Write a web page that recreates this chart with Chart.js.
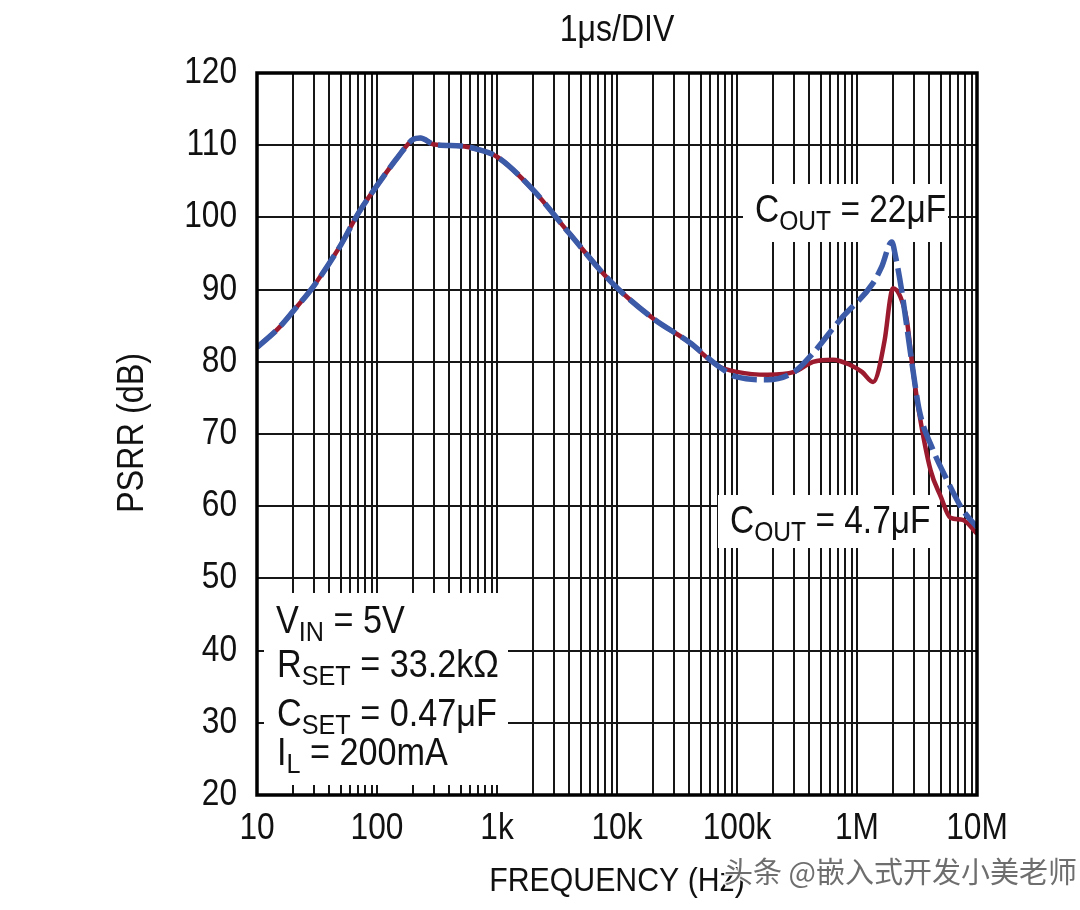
<!DOCTYPE html>
<html>
<head>
<meta charset="utf-8">
<script src="https://cdn.jsdelivr.net/npm/chart.js@4.4.0/dist/chart.umd.min.js"></script>
<style>
  html, body { margin: 0; background: #fff; }
</style>
</head>
<body>
<canvas id="psrr" width="1080" height="910"></canvas>
<script>
// PSRR vs frequency
const freq47 = [10, 15, 20, 30, 50, 70, 100, 150, 200, 230, 300, 500, 700, 1000, 2000, 4000, 9000, 20000, 40000, 70000,
  100000, 180000, 300000, 430000, 630000, 870000, 1100000, 1360000, 1700000, 1900000, 2000000, 2300000, 2600000, 2900000,
  3300000, 4100000, 5000000, 6000000, 7600000, 10000000];
const psrr47 = [82, 84.6, 87, 90.6, 96.2, 100.6, 104.4, 108.4, 110.8, 111, 110.1, 109.9, 109.4, 108.4, 103.8, 97.8, 91, 86, 82.7, 79.4,
  78.6, 78.2, 78.6, 80.0, 80.3, 79.6, 78.6, 77.2, 83, 89, 90.2, 89, 85.8, 79.3,
  72.9, 65, 61.3, 58.4, 58.1, 56.2];

const freq22 = [10, 15, 20, 30, 50, 70, 100, 150, 200, 230, 300, 500, 700, 1000, 2000, 4000, 9000, 20000, 40000, 70000,
  100000, 180000, 300000, 430000, 720000, 1360000, 1600000, 1950000, 2100000, 2350000, 2600000, 2900000, 3300000,
  4300000, 5600000, 7600000, 10000000];
const psrr22 = [82, 84.6, 87, 90.6, 96.2, 100.6, 104.4, 108.4, 110.8, 111, 110.1, 109.9, 109.4, 108.4, 103.8, 97.8, 91, 86, 82.7, 79.4,
  77.9, 77.5, 78.6, 81.2, 85.8, 90.9, 93.1, 96.6, 94.5, 90, 84.9, 79.3, 73.3,
  67.8, 63.7, 59.5, 57.1];

const xTickValues = [10, 100, 1000, 10000, 100000, 1000000, 10000000];
const xTickLabels = ['10', '100', '1k', '10k', '100k', '1M', '10M'];
const yTickValues = [20, 30, 40, 50, 60, 70, 80, 90, 100, 110, 120];

const FONT = '"Liberation Sans", Arial, Helvetica, sans-serif';
const INK = '#111';

// grid lines at 1..9 of every decade
function decadeGrid() {
  const out = [];
  for (let e = 1; e < 7; e++) {
    for (let m = 1; m < 10; m++) out.push(m * Math.pow(10, e));
  }
  out.push(1e7);
  return out;
}

// text with optional subscripts, squeezed horizontally like the condensed face of the original
function richText(c, parts, x, y, size, sx) {
  c.save();
  c.translate(x, y);
  c.scale(sx, 1);
  c.textBaseline = 'alphabetic';
  c.textAlign = 'left';
  let cx = 0;
  parts.forEach(([t, sub]) => {
    c.font = (sub ? Math.round(size * 0.74) : size) + 'px ' + FONT;
    c.fillText(t, cx, sub ? size * 0.22 : 0);
    cx += c.measureText(t).width;
  });
  c.restore();
}

function plainText(c, t, x, y, size, sx, align) {
  c.save();
  c.translate(x, y);
  c.scale(sx, 1);
  c.font = size + 'px ' + FONT;
  c.textAlign = align;
  c.textBaseline = 'middle';
  c.fillText(t, 0, 0);
  c.restore();
}

const paperPlugin = {
  id: 'paper',
  beforeDatasetsDraw(chart) {
    const c = chart.ctx;
    c.save();
    c.fillStyle = '#fff';
    c.fillRect(743, 184, 205, 58);   // C_OUT = 22uF
    c.fillRect(718, 495, 219, 53);   // C_OUT = 4.7uF
    c.fillRect(264, 593, 244, 192);  // conditions
    c.restore();
  },
  afterDraw(chart) {
    const c = chart.ctx;
    const a = chart.chartArea;
    const xs = chart.scales.x, ys = chart.scales.y;
    c.save();
    c.strokeStyle = '#000';
    c.lineWidth = 3.5;
    c.strokeRect(a.left, a.top, a.right - a.left, a.bottom - a.top);

    c.fillStyle = INK;
    yTickValues.forEach(v => plainText(c, String(v), 237, ys.getPixelForValue(v), 36, 0.88, 'right'));
    xTickValues.forEach((v, i) => plainText(c, xTickLabels[i], xs.getPixelForValue(v), 829, 36, 0.88, 'center'));

    plainText(c, '1\u03bcs/DIV', 617, 31, 36, 0.89, 'center');
    plainText(c, 'FREQUENCY (Hz)', 617, 882, 34, 0.89, 'center');

    c.save();
    c.translate(133, 433);
    c.rotate(-Math.PI / 2);
    plainText(c, 'PSRR (dB)', 0, 0, 36, 0.9, 'center');
    c.restore();

    richText(c, [['C', false], ['OUT', true], [' = 22\u03bcF', false]], 755, 222, 38, 0.88);
    richText(c, [['C', false], ['OUT', true], [' = 4.7\u03bcF', false]], 730, 533, 38, 0.88);
    richText(c, [['V', false], ['IN', true], [' = 5V', false]], 276, 633, 38, 0.9);
    richText(c, [['R', false], ['SET', true], [' = 33.2k\u03a9', false]], 277, 677, 38, 0.9);
    richText(c, [['C', false], ['SET', true], [' = 0.47\u03bcF', false]], 277, 726, 38, 0.9);
    richText(c, [['I', false], ['L', true], [' = 200mA', false]], 277, 765, 38, 0.9);

    // watermark
    c.font = '29px "Noto Sans CJK SC", sans-serif';
    c.textAlign = 'left';
    c.textBaseline = 'middle';
    c.lineWidth = 3;
    c.strokeStyle = 'rgba(255,255,255,0.9)';
    c.strokeText('\u5934\u6761 @\u5d4c\u5165\u5f0f\u5f00\u53d1\u5c0f\u7f8e\u8001\u5e08', 724, 872);
    c.fillStyle = 'rgba(85,85,85,0.85)';
    c.fillText('\u5934\u6761 @\u5d4c\u5165\u5f0f\u5f00\u53d1\u5c0f\u7f8e\u8001\u5e08', 724, 872);
    c.restore();
  }
};

const ctx = document.getElementById('psrr').getContext('2d');
new Chart(ctx, {
  type: 'line',
  data: {
    datasets: [
      {
        label: 'COUT = 22\u03bcF',
        data: freq22.map((f, i) => ({ x: f, y: psrr22[i] })),
        borderColor: '#3b5aa8',
        borderWidth: 5.5,
        borderDash: [25, 7],
        pointRadius: 0,
        cubicInterpolationMode: 'monotone',
        order: 0
      },
      {
        label: 'COUT = 4.7\u03bcF',
        data: freq47.map((f, i) => ({ x: f, y: psrr47[i] })),
        borderColor: '#9b1a2e',
        borderWidth: 4.5,
        pointRadius: 0,
        cubicInterpolationMode: 'monotone',
        order: 1
      }
    ]
  },
  options: {
    responsive: false,
    animation: false,
    devicePixelRatio: 1,
    layout: { padding: { left: 257, right: 103, top: 73, bottom: 115 } },
    plugins: { legend: { display: false }, tooltip: { enabled: false } },
    scales: {
      x: {
        type: 'logarithmic',
        min: 10,
        max: 1e7,
        afterBuildTicks: s => { s.ticks = decadeGrid().map(v => ({ value: v })); },
        afterFit: s => { s.height = 0; },
        ticks: { display: false, autoSkip: false },
        grid: { color: '#161616', lineWidth: 2, drawTicks: false },
        border: { display: false }
      },
      y: {
        min: 20,
        max: 120,
        afterFit: s => { s.width = 0; },
        ticks: { display: false, stepSize: 10 },
        grid: { color: '#161616', lineWidth: 2, drawTicks: false },
        border: { display: false }
      }
    }
  },
  plugins: [paperPlugin]
});
</script>
</body>
</html>
